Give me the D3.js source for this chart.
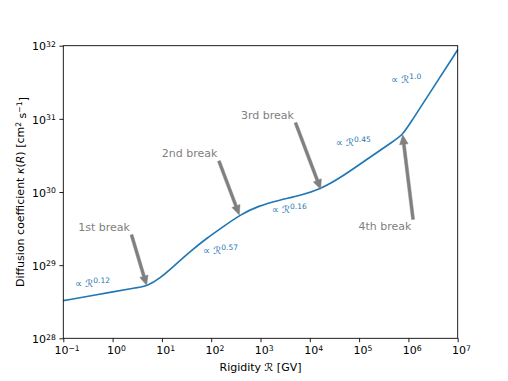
<!DOCTYPE html>
<html>
<head>
<meta charset="utf-8">
<script src="https://cdn.jsdelivr.net/npm/d3@7"></script>
<style>
  html, body { margin: 0; padding: 0; background: #fff; }
  text { font-family: "DejaVu Sans", sans-serif; }
</style>
</head>
<body>
<svg id="chart" width="508" height="381"></svg>
<script>
// ---- data ----
const rigidity = [0.1, 1, 3.16, 5.06, 9.14, 17.02, 37.15, 81.1, 175.8, 383.7, 901.6, 2489, 6339, 16106, 41020, 166300, 501000, 765600, 1.122e6, 2.512e6, 1e7];
const kappa = [3.27e28, 4.31e28, 4.94e28, 5.19e28, 6.62e28, 9.53e28, 1.531e29, 2.333e29, 3.365e29, 4.864e29, 6.457e29, 7.798e29, 8.933e29, 1.091e30, 1.545e30, 2.992e30, 4.97e30, 6.04e30, 9.0e30, 2.08e31, 8.79e31];

const xTickExps = [-1, 0, 1, 2, 3, 4, 5, 6, 7];
const yTickExps = [28, 29, 30, 31, 32];

const breakLabels = ["1st break", "2nd break", "3rd break", "4th break"];
const breakTextR = [0.67, 36.3, 1380, 335000];
const breakTextK = [3.33e29, 3.4e30, 1.135e31, 3.37e29];
const breakTipR = [4.9, 372, 16630, 766000];
const breakTipK = [5.3e28, 4.86e29, 1.09e30, 6.04e30];

const slopeLabels = ["0.12", "0.57", "0.16", "0.45", "1.0"];
const slopeR = [0.173, 68.2, 1686, 33500, 443600];
const slopeK = [5.03e28, 1.42e29, 5.18e29, 4.28e30, 3.1e31];

// ---- layout ----
const svg = d3.select("#chart");
const L = 63.3, R = 457.7, T = 45.7, B = 338.3;
const x = d3.scaleLog().domain([1e-1, 1e7]).range([L, R]);
const y = d3.scaleLog().domain([1e28, 1e32]).range([B, T]);
const blue = "#1f77b4", gray = "#808080";

function minors(lo, hi) {
  const out = [];
  for (let e = lo; e < hi; e++) for (let m = 2; m <= 9; m++) out.push(m * Math.pow(10, e));
  return out;
}
function supLabel(sel, exp) {
  sel.text(null);
  sel.append("tspan").text("10");
  sel.append("tspan").attr("dy", "-0.45em").attr("font-size", "7.7px")
    .text(String(exp).replace("-", "\u2212"));
}

// x axis
const gx = svg.append("g").attr("transform", `translate(0,${B})`);
gx.call(d3.axisBottom(x).tickValues(minors(-1, 7)).tickSize(2.2).tickFormat(""));
gx.call(d3.axisBottom(x).tickValues(xTickExps.map(e => Math.pow(10, e))).tickSize(3.9).tickPadding(3.6)
  .tickFormat(d => d));
gx.select(".domain").remove();
gx.selectAll(".tick text").each(function(d) {
  const t = d3.select(this).attr("font-size", "11px").attr("fill", "#000").attr("dy", "0.75em").attr("dx", "0.3em");
  supLabel(t, Math.round(Math.log10(d)));
});

// y axis
const gy = svg.append("g").attr("transform", `translate(${L},0)`);
gy.call(d3.axisLeft(y).tickValues(minors(28, 32)).tickSize(2.2).tickFormat(""));
gy.call(d3.axisLeft(y).tickValues(yTickExps.map(e => Math.pow(10, e))).tickSize(3.9).tickPadding(3.6)
  .tickFormat(d => d));
gy.select(".domain").remove();
gy.selectAll(".tick text").each(function(d) {
  const t = d3.select(this).attr("font-size", "11px").attr("fill", "#000").attr("dy", "0.38em");
  supLabel(t, Math.round(Math.log10(d)));
});
svg.selectAll(".tick line").attr("stroke", "#000").attr("stroke-width", 0.88);

// curve
const pts = rigidity.map((r, i) => [r, kappa[i]]);
svg.append("path")
  .attr("d", d3.line().x(d => x(d[0])).y(d => y(d[1])).curve(d3.curveBasis)(pts))
  .attr("fill", "none").attr("stroke", blue).attr("stroke-width", 1.65)
  .attr("stroke-linejoin", "round");

// frame
svg.append("rect").attr("x", L).attr("y", T).attr("width", R - L).attr("height", B - T)
  .attr("fill", "none").attr("stroke", "#000").attr("stroke-width", 0.88);

// slope labels
slopeLabels.forEach((s, i) => {
  const t = svg.append("text").attr("x", x(slopeR[i])).attr("y", y(slopeK[i]))
    .attr("fill", blue).attr("font-size", "10px");
  t.append("tspan").text("\u221D ");
  t.append("tspan").text("\u211B");
  t.append("tspan").attr("dy", "-0.5em").attr("font-size", "7.5px").text(s);
});

// break annotations
breakLabels.forEach((lab, i) => {
  const cx = x(breakTextR[i]), cy = y(breakTextK[i]);
  const t = svg.append("text").attr("x", cx).attr("y", cy).attr("dy", "0.35em")
    .attr("text-anchor", "middle").attr("fill", gray).attr("font-size", "11px").text(lab);
  const bb = t.node().getBBox();
  const pad = 1;
  const x0 = bb.x - pad, x1 = bb.x + bb.width + pad, y0 = bb.y - pad, y1 = bb.y + bb.height + pad;
  const tx = x(breakTipR[i]), ty = y(breakTipK[i]);
  const xs = [x0, (x0 + x1) / 2, x1], ys = [y0, (y0 + y1) / 2, y1];
  const sx = xs.reduce((a, b) => Math.abs(b - tx) < Math.abs(a - tx) ? b : a);
  const sy = ys.reduce((a, b) => Math.abs(b - ty) < Math.abs(a - ty) ? b : a);
  const dx = tx - sx, dy = ty - sy, len = Math.hypot(dx, dy);
  const ux = dx / len, uy = dy / len, nx = -uy, ny = ux;
  const w = 1.5, hw = 4.3, hl = 9.5;
  const bx = tx - ux * hl, by = ty - uy * hl;
  const poly = [
    [sx + nx * w, sy + ny * w], [bx + nx * w, by + ny * w], [bx + nx * hw, by + ny * hw],
    [tx, ty], [bx - nx * hw, by - ny * hw], [bx - nx * w, by - ny * w], [sx - nx * w, sy - ny * w]
  ];
  svg.append("path").attr("d", "M" + poly.map(p => p.join(",")).join("L") + "Z")
    .attr("fill", gray).attr("stroke", gray).attr("stroke-width", 0.5);
});

// axis titles
const xl = svg.append("text").attr("x", (L + R) / 2).attr("y", 371).attr("text-anchor", "middle")
  .attr("font-size", "11px").attr("fill", "#000");
xl.append("tspan").text("Rigidity ");
xl.append("tspan").text("\u211B");
xl.append("tspan").text(" [GV]");

const yl = svg.append("text").attr("transform", `translate(24,${(T + B) / 2}) rotate(-90)`)
  .attr("text-anchor", "middle").attr("font-size", "11px").attr("fill", "#000");
yl.append("tspan").text("Diffusion coefficient ");
yl.append("tspan").attr("font-style", "italic").text("\u03BA");
yl.append("tspan").text("(");
yl.append("tspan").attr("font-style", "italic").text("R");
yl.append("tspan").text(") [cm");
yl.append("tspan").attr("dy", "-0.45em").attr("font-size", "7.7px").text("2");
yl.append("tspan").attr("dy", "0.45em").text(" s");
yl.append("tspan").attr("dy", "-0.45em").attr("font-size", "7.7px").text("\u22121");
yl.append("tspan").attr("dy", "0.45em").text("]");
</script>
</body>
</html>
